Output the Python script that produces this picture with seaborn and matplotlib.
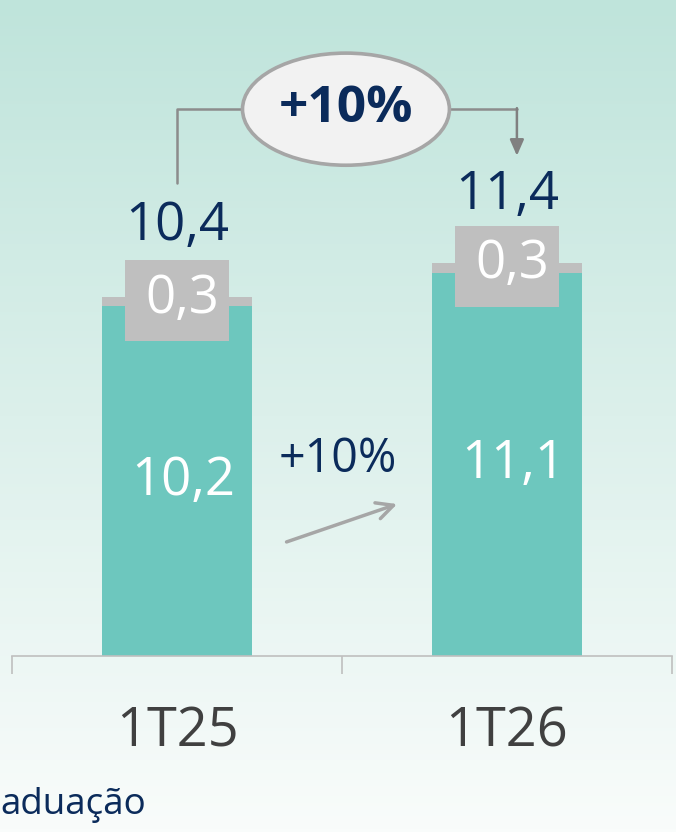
import seaborn as sns
import matplotlib.pyplot as plt
import matplotlib.colors as mcolors
from matplotlib.patches import Ellipse, Rectangle
import numpy as np
import pandas as pd

# data
periods = ['1T25', '1T26']
base = [10.15, 11.1]
extra = [0.25, 0.3]
total_labels = ['10,4', '11,4']
base_labels = ['10,2', '11,1']
extra_labels = ['0,3', '0,3']
growth_total = '+10%'
growth_base = '+10%'
footer = 'aduação'

TEAL = '#6DC7BE'
GREY = '#BFBFBF'
NAVY = '#0B2B5B'
DARK = '#404040'

sns.set_theme(style='white')
plt.rcParams['font.family'] = ['Open Sans', 'DejaVu Sans']

df = pd.DataFrame({'period': periods, 'base': base, 'extra': extra})
df['total'] = df['base'] + df['extra']

W, H = 676, 832
fig = plt.figure(figsize=(W / 100, H / 100), dpi=100)

# gradient background
bg = fig.add_axes([0, 0, 1, 1], zorder=0)
grad = np.linspace(0, 1, 256)[:, None]
cmap = mcolors.LinearSegmentedColormap.from_list('bg', ['#BFE4DB', '#F9FCFB'])
bg.imshow(grad, cmap=cmap, aspect='auto', extent=[0, 1, 0, 1])
bg.axis('off')

ax = fig.add_axes([12 / W, 176 / H, 660 / W, 656 / H], zorder=1)
ax.patch.set_alpha(0)

bw = 150 / 330
sns.barplot(data=df, x='period', y='total', color=GREY, width=bw,
            saturation=1, errorbar=None, linewidth=0, ax=ax)
sns.barplot(data=df, x='period', y='base', color=TEAL, width=bw,
            saturation=1, errorbar=None, linewidth=0, ax=ax)

ax.set_xlim(-0.5, 1.5)
ax.set_ylim(0, 656 / 34.5)
ax.set_xlabel('')
ax.set_ylabel('')
ax.set_yticks([])
for s in ['left', 'top', 'right']:
    ax.spines[s].set_visible(False)
ax.spines['bottom'].set_color(GREY)
ax.spines['bottom'].set_linewidth(1.2)
ax.set_xticks([0, 1])
ax.set_xticklabels(periods)
ax.set_xticks([-0.5, 0.5, 1.5], minor=True)
ax.tick_params(axis='x', which='major', length=0, pad=35, labelsize=39, labelcolor=DARK)
ax.tick_params(axis='x', which='minor', length=13, width=1.2, color=GREY, direction='out',
               bottom=True)

label_lift = [2.05, 1.95]
for i, row in df.iterrows():
    t = row['total']
    # grey label box sitting on top of the bar
    ax.add_patch(Rectangle((i - 0.159, t - 0.1 - 1.175), 0.318, 2.35,
                           facecolor=GREY, edgecolor='none', zorder=3))
    ax.text(i + 0.015, t - 0.05, extra_labels[i], ha='center', va='center',
            fontsize=38, color='white', zorder=4)
    ax.text(i, t + label_lift[i], total_labels[i], ha='center', va='center',
            fontsize=38, color=NAVY, zorder=4)
    ax.text(i + 0.018, row['base'] / 2, base_labels[i], ha='center', va='center',
            fontsize=38, color='white', zorder=4)

# growth of the base segment
ax.text(0.488, 5.7, growth_base, ha='center', va='center', fontsize=33.5, color=NAVY)
ax.annotate('', xy=(0.675, 4.43), xytext=(0.324, 3.28),
            arrowprops=dict(arrowstyle='->,head_length=1.0,head_width=0.5',
                            color='#A6A6A6', lw=2.5))

# total growth bubble with bracket
ey = 15.85
ex, ew, eh = 0.512, 0.627, 3.25
c0 = df['total'][0] + 3.3
c1 = df['total'][1] + 3.1
ax.plot([0, 0, ex - ew / 2], [c0, ey, ey], color='#8C8C8C', lw=1.8, zorder=2)
ax.plot([ex + ew / 2, 1.03], [ey, ey], color='#8C8C8C', lw=1.8, zorder=2)
ax.annotate('', xy=(1.03, c1), xytext=(1.03, ey + 0.03),
            arrowprops=dict(arrowstyle='-|>,head_length=0.8,head_width=0.35',
                            color='#808080', lw=1.8, shrinkA=0, shrinkB=0))
ax.add_patch(Ellipse((ex, ey), ew, eh, facecolor='#F2F2F2', edgecolor='#A6A6A6',
                     lw=2.6, zorder=3))
ax.text(ex, ey, growth_total, ha='center', va='center', fontsize=37,
        fontweight='bold', color=NAVY, zorder=4)

fig.text(0.5 / W, (832 - 805) / H, footer, ha='left', va='center',
         fontsize=26.5, color=NAVY)

fig.savefig('out.png', dpi=100)
